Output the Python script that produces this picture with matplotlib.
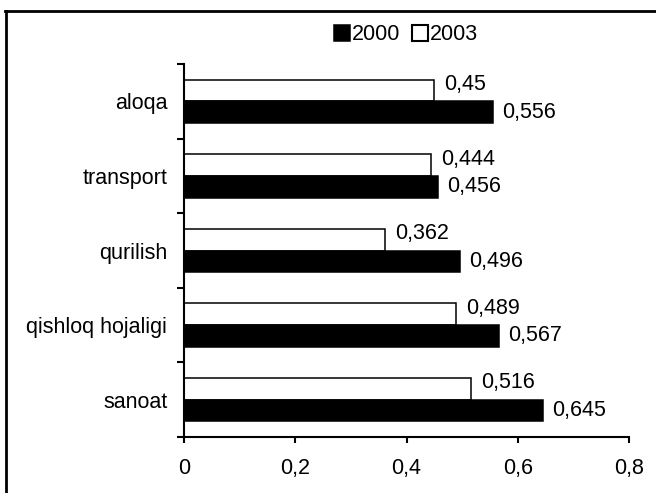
import matplotlib
matplotlib.use("Agg")
import matplotlib.pyplot as plt
from matplotlib.lines import Line2D
from matplotlib.patches import Patch
from matplotlib.ticker import FixedLocator

# data, top to bottom as in the chart
categories = ["aloqa", "transport", "qurilish", "qishloq hojaligi", "sanoat"]
values_2000 = [0.556, 0.456, 0.496, 0.567, 0.645]
values_2003 = [0.45, 0.444, 0.362, 0.489, 0.516]
series_names = ["2000", "2003"]
x_ticks = [0, 0.2, 0.4, 0.6, 0.8]
x_tick_labels = ["0", "0,2", "0,4", "0,6", "0,8"]

plt.rcParams["font.family"] = ["Liberation Sans", "DejaVu Sans"]
plt.rcParams["font.size"] = 15.5

W, H = 656, 493
fig = plt.figure(figsize=(W / 100, H / 100), dpi=100)
ax = fig.add_axes([184 / W, (H - 437) / H, (629 - 184) / W, (437 - 64) / H])

n = len(categories)
pos = list(range(n))
bh = 0.29

ax.barh([p - bh / 2 for p in pos], values_2003, height=bh,
        color="white", edgecolor="black", linewidth=1.1)
ax.barh([p + bh / 2 for p in pos], values_2000, height=bh,
        color="black", edgecolor="black", linewidth=1.1)

# value labels, decimal comma
for p, v in zip(pos, values_2003):
    ax.annotate(str(v).replace(".", ","), xy=(v, p - bh / 2), xytext=(10, 6),
                textcoords="offset pixels", ha="left", va="center")
for p, v in zip(pos, values_2000):
    ax.annotate(str(v).replace(".", ","), xy=(v, p + bh / 2), xytext=(9, 0),
                textcoords="offset pixels", ha="left", va="center")

ax.set_xlim(0, 0.8)
ax.set_ylim(n - 0.5, -0.5)

ax.set_xticks(x_ticks)
ax.set_xticklabels(x_tick_labels)
ax.tick_params(axis="x", direction="out", length=4, width=1.5, pad=11)

# labels at category centres, ticks at category boundaries
ax.set_yticks(pos)
ax.set_yticklabels(categories)
ax.tick_params(axis="y", which="major", length=0, pad=12)
ax.yaxis.set_minor_locator(FixedLocator([i - 0.5 for i in range(n + 1)]))
ax.tick_params(axis="y", which="minor", direction="out", length=5, width=1.5)

for side in ["top", "right"]:
    ax.spines[side].set_visible(False)
for side in ["left", "bottom"]:
    ax.spines[side].set_linewidth(1.5)

handles = [Patch(facecolor="black", edgecolor="black", linewidth=1.1),
           Patch(facecolor="white", edgecolor="black", linewidth=1.5)]
fig.legend(handles, series_names, loc="center", ncol=2,
           bbox_to_anchor=(406 / W, 1 - 35 / H), frameon=False,
           handlelength=0.75, handleheight=0.75, handletextpad=0.1,
           columnspacing=0.5, borderpad=0)

# outer chart border (only top and left edges visible in the crop)
fig.add_artist(Line2D([5 / W, 1], [1 - 11 / H, 1 - 11 / H], color="black", linewidth=2))
fig.add_artist(Line2D([6 / W, 6 / W], [0, 1 - 11 / H], color="black", linewidth=2))

fig.savefig("out.png", dpi=100)
